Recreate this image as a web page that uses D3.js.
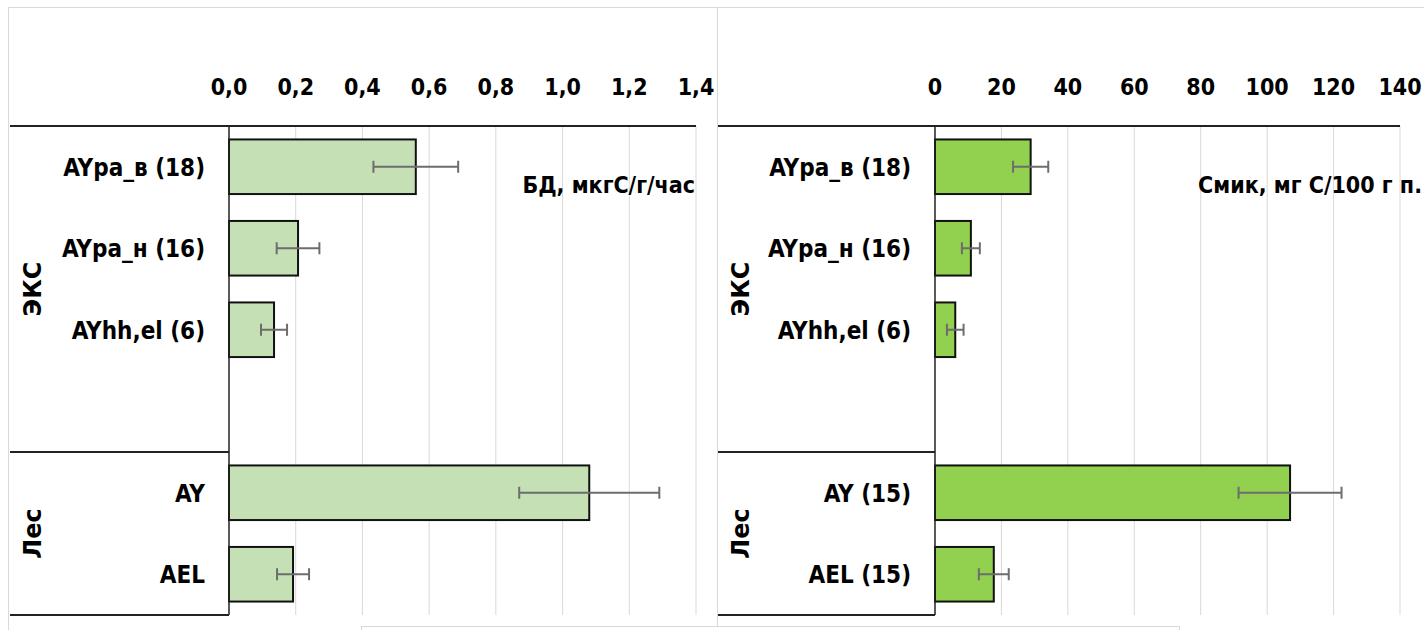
<!DOCTYPE html>
<html>
<head>
<meta charset="utf-8">
<script src="https://cdn.jsdelivr.net/npm/d3@7"></script>
<style>
  body { margin: 0; background: #fff; }
  svg { display: block; }
  text { font-family: "DejaVu Sans Condensed", "DejaVu Sans", sans-serif; font-stretch: condensed; font-weight: bold; fill: #000; }
</style>
</head>
<body>
<div id="chart"></div>
<script>
  // slots, the empty one keeps the gap inside the first group
  const slots = ['s1', 's2', 's3', 'gap', 's4', 's5'];
  const groups = [
    { name: 'ЭКС', size: 4 },
    { name: 'Лес', size: 2 }
  ];

  const bdLabels = ['AYpa_в (18)', 'AYpa_н (16)', 'AYhh,el (6)', '', 'AY', 'AEL'];
  const bdValues = [0.56, 0.207, 0.135, null, 1.08, 0.192];
  const bdErrors = [0.127, 0.064, 0.039, null, 0.21, 0.048];
  const bdTicks = [0, 0.2, 0.4, 0.6, 0.8, 1.0, 1.2, 1.4];

  const cmLabels = ['AYpa_в (18)', 'AYpa_н (16)', 'AYhh,el (6)', '', 'AY (15)', 'AEL (15)'];
  const cmValues = [28.8, 10.8, 6.1, null, 106.9, 17.7];
  const cmErrors = [5.3, 2.7, 2.5, null, 15.5, 4.5];
  const cmTicks = [0, 20, 40, 60, 80, 100, 120, 140];

  const width = 1424;
  const height = 630;
  const ru = d3.formatLocale({ decimal: ',', thousands: ' ', grouping: [3], currency: ['', ''] });

  const svg = d3.select('#chart')
    .append('svg')
    .attr('width', width)
    .attr('height', height);

  // outer frames of both panels
  svg.append('rect')
    .attr('x', 8.5).attr('y', 7.5)
    .attr('width', 709).attr('height', 640)
    .attr('fill', 'none').attr('stroke', '#d9d9d9');
  svg.append('rect')
    .attr('x', 717.5).attr('y', 7.5)
    .attr('width', 720).attr('height', 640)
    .attr('fill', 'none').attr('stroke', '#d9d9d9');
  // edge of the element below
  svg.append('rect')
    .attr('x', 361.5).attr('y', 626.5)
    .attr('width', 818).attr('height', 40)
    .attr('fill', '#fff').attr('stroke', '#d9d9d9');

  function drawPanel(opts) {
    const x = d3.scaleLinear()
      .domain([opts.ticks[0], opts.ticks[opts.ticks.length - 1]])
      .range([opts.x0, opts.x1]);

    const y = d3.scaleBand()
      .domain(slots)
      .range([126, 615])
      .paddingInner(0.33)
      .paddingOuter(0.165);

    const g = svg.append('g');

    // gridlines
    g.selectAll('.grid')
      .data(opts.ticks.slice(1))
      .enter()
      .append('line')
      .attr('x1', d => x(d)).attr('x2', d => x(d))
      .attr('y1', 126).attr('y2', 615)
      .attr('stroke', '#d9d9d9')
      .attr('stroke-width', 1);

    // tick labels on top
    g.selectAll('.tick')
      .data(opts.ticks)
      .enter()
      .append('text')
      .attr('x', d => x(d))
      .attr('y', 95)
      .attr('text-anchor', 'middle')
      .style('font-size', '23px')
      .text(d => opts.format(d));

    // bars
    const rows = slots.map((s, i) => ({ slot: s, label: opts.labels[i], value: opts.values[i], err: opts.errors[i] }))
      .filter(d => d.value !== null);

    g.selectAll('.bar')
      .data(rows)
      .enter()
      .append('rect')
      .attr('x', x(0))
      .attr('y', d => y(d.slot))
      .attr('width', d => x(d.value) - x(0))
      .attr('height', y.bandwidth())
      .attr('fill', opts.fill)
      .attr('stroke', '#111')
      .attr('stroke-width', 2);

    // error bars
    const eb = g.selectAll('.err')
      .data(rows)
      .enter()
      .append('g')
      .attr('stroke', '#6d6d6d')
      .attr('stroke-width', 2);
    eb.append('line')
      .attr('x1', d => x(d.value - d.err)).attr('x2', d => x(d.value + d.err))
      .attr('y1', d => y(d.slot) + y.bandwidth() / 2)
      .attr('y2', d => y(d.slot) + y.bandwidth() / 2);
    eb.append('line')
      .attr('x1', d => x(d.value - d.err)).attr('x2', d => x(d.value - d.err))
      .attr('y1', d => y(d.slot) + y.bandwidth() / 2 - 6)
      .attr('y2', d => y(d.slot) + y.bandwidth() / 2 + 6);
    eb.append('line')
      .attr('x1', d => x(d.value + d.err)).attr('x2', d => x(d.value + d.err))
      .attr('y1', d => y(d.slot) + y.bandwidth() / 2 - 6)
      .attr('y2', d => y(d.slot) + y.bandwidth() / 2 + 6);

    // category labels
    g.selectAll('.cat')
      .data(rows)
      .enter()
      .append('text')
      .attr('x', opts.x0 - 24)
      .attr('y', d => y(d.slot) + y.bandwidth() / 2 + 9)
      .attr('text-anchor', 'end')
      .style('font-size', '24px')
      .text(d => d.label);

    // axis frame: top line, zero line, group separators
    g.append('line')
      .attr('x1', opts.left).attr('x2', x.range()[1])
      .attr('y1', 126).attr('y2', 126)
      .attr('stroke', '#222').attr('stroke-width', 2);
    g.append('line')
      .attr('x1', x(0)).attr('x2', x(0))
      .attr('y1', 126).attr('y2', 615)
      .attr('stroke', '#222').attr('stroke-width', 1.5);

    let start = 0;
    groups.forEach(grp => {
      const top = 126 + start * y.step();
      const bottom = 126 + (start + grp.size) * y.step();
      g.append('line')
        .attr('x1', opts.left).attr('x2', x(0))
        .attr('y1', bottom).attr('y2', bottom)
        .attr('stroke', '#222').attr('stroke-width', 2);
      g.append('text')
        .attr('transform', `translate(${opts.left + 31},${(top + bottom) / 2}) rotate(-90)`)
        .attr('text-anchor', 'middle')
        .style('font-family', '"DejaVu Sans", sans-serif')
        .style('font-stretch', 'normal')
        .style('font-size', '24px')
        .text(grp.name);
      start += grp.size;
    });

    // measure name
    g.append('text')
      .attr('x', opts.titleX)
      .attr('y', 193)
      .attr('text-anchor', 'end')
      .style('font-size', '23px')
      .text(opts.title);
  }

  drawPanel({
    left: 10, x0: 229, x1: 696,
    ticks: bdTicks, labels: bdLabels, values: bdValues, errors: bdErrors,
    format: ru.format('.1f'), fill: '#c5e0b4',
    title: 'БД, мкгС/г/час', titleX: 695
  });

  drawPanel({
    left: 718, x0: 935, x1: 1400,
    ticks: cmTicks, labels: cmLabels, values: cmValues, errors: cmErrors,
    format: ru.format('d'), fill: '#92d050',
    title: 'Смик, мг С/100 г п.', titleX: 1422
  });
</script>
</body>
</html>
